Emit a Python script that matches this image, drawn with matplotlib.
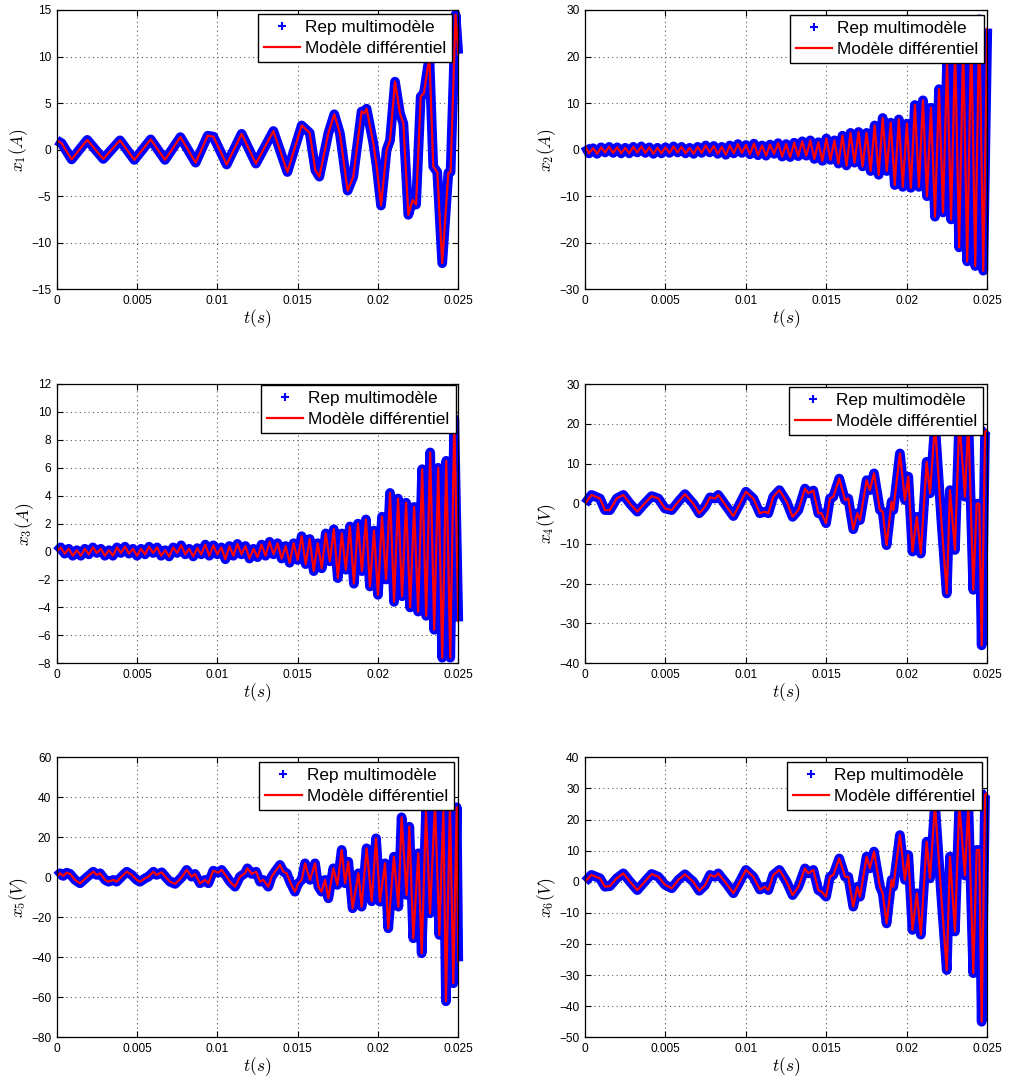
import numpy as np
import matplotlib
matplotlib.use('Agg')
import matplotlib.pyplot as plt
from matplotlib.lines import Line2D

plt.rcParams['font.family'] = ['Liberation Sans', 'DejaVu Sans']
plt.rcParams['mathtext.fontset'] = 'cm'

# ---------------- data (time in ms) ----------------
t1_ms = [0, 0.3, 0.93, 1.9, 2.9, 3.94, 4.83, 5.85, 6.74, 7.7, 8.65, 9.4, 9.75, 10.58, 11.51,
         12.4, 13.49, 14.36, 15.25, 15.75, 16.1, 16.35, 16.91, 17.28, 17.63, 18.11, 18.46,
         18.98, 19.15, 19.29, 19.71, 19.92, 20.19, 20.54, 20.75, 21.06, 21.37, 21.58, 21.89,
         22.16, 22.37, 22.66, 22.86, 23.2, 23.44, 23.69, 24.0, 24.38, 24.52, 24.83, 25.0]
x1 = [1.0, 0.7, -1.05, 1.05, -1.0, 1.0, -1.1, 1.1, -1.1, 1.35, -1.4, 1.5, 1.4, -1.6, 1.7,
      -1.5, 2.0, -2.4, 2.6, 1.8, -2.2, -2.9, 1.75, 3.8, 1.75, -4.4, -2.9,
      4.1, 3.9, 4.4, 0.7, -1.8, -6.0, 0.0, 1.0, 7.3, 3.9, 2.8, -7.0,
      -5.4, -5.9, 5.7, 6.05, 10.0, -1.8, -2.4, -12.2, -2.5, -2.4, 14.5, 10.3]

# x2, x3: successive extrema, uniformly spaced over [0, 25 ms]
x2 = [0.8, -0.8, 0.3, -0.9, 0.5, -0.6, 0.6, -0.7, 0.5, -0.8,
      0.4, -0.8, 0.6, -0.6, 0.7, -0.7, 0.5, -0.9, 0.4, -0.8,
      0.5, -0.7, 0.7, -0.6, 0.6, -0.8, 0.4, -0.9, 0.6, -0.7,
      0.9, -0.6, 0.8, -0.9, 0.6, -1.1, 0.9, -0.8, 1.2, -0.7,
      1.0, -1.0, 1.3, -1.2, 0.9, -1.3, 1.1, -0.9, 1.4, -1.5,
      1.2, -1.6, 1.5, -1.4, 1.8, -1.3, 2.0, -2.0, 1.6, -2.4,
      2.4, -2.2, 2.0, -3.0, 3.0, -3.4, 3.6, -2.8, 3.8, -3.6,
      3.6, -4.6, 5.2, -5.4, 6.8, -4.6, 5.8, -7.6, 6.5, -8.0,
      5.6, -8.2, 9.6, -8.0, 10.6, -10.0, 9.0, -14.4, 13.0, -13.5,
      19.0, -15.0, 22.0, -21.0, 23.0, -24.0, 25.0, -25.0, 28.0, -26.0, 26.0]
x3 = [0.0, 0.3, -0.15, 0.2, -0.3, 0.1, -0.3, 0.2, -0.2, 0.3,
      -0.1, 0.2, -0.3, 0.1, -0.3, 0.3, -0.1, 0.35, -0.15, 0.2,
      -0.3, 0.2, -0.2, 0.35, -0.1, 0.3, -0.3, 0.1, -0.35, 0.3,
      -0.1, 0.45, -0.2, 0.2, -0.35, 0.25, -0.2, 0.5, -0.3, 0.45,
      -0.2, 0.3, -0.55, 0.4, -0.3, 0.55, -0.2, 0.4, -0.5, 0.2,
      -0.4, 0.5, -0.3, 0.7, -0.2, 0.6, -0.5, 0.4, -0.8, 0.6,
      -0.6, 1.1, -0.9, 0.9, -1.4, 0.6, -1.2, 1.3, -0.7, 1.6,
      -1.9, 1.3, -1.3, 1.8, -2.3, 2.0, -1.4, 2.3, -2.5, 1.5,
      -3.1, 2.5, -2.0, 4.2, -3.6, 3.8, -3.2, 3.5, -4.0, 3.2,
      -4.3, 5.9, -4.6, 7.1, -5.6, 6.0, -7.6, 6.5, -7.6, 9.5, -5.0]

t46_ms = [0, 0.4, 0.93, 1.24, 1.55, 1.97, 2.38, 2.8, 3.25, 3.62,
          4.14, 4.56, 4.97, 5.39, 5.8, 6.21, 6.73, 7.1, 7.46, 7.77,
          8.08, 8.28, 8.8, 9.22, 9.53, 10.0, 10.46, 10.87, 11.18, 11.39,
          11.7, 12.08, 12.53, 12.9, 13.26, 13.67, 13.88, 14.19, 14.5, 14.7,
          14.98, 15.22, 15.43, 15.8, 16.16, 16.36, 16.67, 16.92, 17.09, 17.5,
          17.7, 17.96, 18.33, 18.5, 18.74, 19.05, 19.16, 19.57, 19.88, 20.09,
          20.35, 20.62, 20.87, 21.23, 21.44, 21.75, 22.16, 22.48, 22.68, 22.99,
          23.26, 23.61, 23.82, 24.13, 24.34, 24.5, 24.65, 24.86, 25.0]
x4 = [0, 2.2, 1.3, -1.6, -1.6, 1.3, 2.2, 0, -2.0, -0.3,
      1.9, 1.3, -1.2, -1.6, 0.5, 2.4, 0, -2.4, -0.75, 1.6,
      1.3, 2.2, -0.75, -3.1, -0.75, 3.0, 1.3, -2.4, -2.0, -2.4,
      1.75, 3.4, 0.5, -3.3, -1.6, 3.8, 2.6, 3.3, -2.4, -2.4,
      -4.9, 1.3, 1.75, 6.3, 0.9, 1.3, -6.4, -2.4, -4.1, 5.9,
      3.4, 7.6, -1.6, -2.0, -10.4, 0.5, -1.6, 12.6, 0.9, 6.8,
      -12.0, -3.3, -12.5, 10.5, 2.6, 20.0, -5.0, -22.5, 3.4, -11.6,
      21.0, 1.75, 21.0, -21.6, 0.0, 0.0, -35.5, 18.0, 18.5]
x6 = [0, 2.2, 1.1, -1.6, -1.4, 1.1, 2.7, 0, -2.7, -0.5,
      2.5, 1.6, -1.0, -2.1, 0.6, 2.4, 0, -2.9, -1.1, 2.2,
      1.6, 2.7, -0.7, -3.7, -0.8, 3.8, 1.6, -2.5, -1.6, -2.7,
      2.2, 3.8, 0, -4.3, -1.6, 4.3, 2.7, 3.8, -2.7, -3.2,
      -4.8, 1.6, 2.2, 7.5, 1.6, 1.6, -8.0, -1.6, -4.8, 8.1,
      4.3, 9.7, -1.6, -3.7, -13.4, 0.6, -1.6, 15.0, 0.6, 8.6,
      -15.5, -3.7, -17.0, 12.9, 1.1, 25.0, -6.0, -28.4, 8.1, -16.0,
      25.0, 2.0, 25.0, -29.4, 10.2, 10.2, -45.0, 28.0, 28.5]

t5_ms = [0, 0.21, 0.41, 0.62, 0.83, 1.14, 1.45, 1.87, 2.28, 2.49,
         2.70, 3.01, 3.22, 3.53, 3.73, 4.15, 4.36, 4.67, 4.98, 5.19,
         5.50, 5.71, 6.02, 6.22, 6.54, 6.85, 7.05, 7.37, 7.78, 8.09,
         8.40, 8.61, 8.92, 9.23, 9.44, 9.75, 10.06, 10.27, 10.58, 10.79,
         11.10, 11.41, 11.72, 11.87, 12.14, 12.41, 12.66, 12.86, 13.17, 13.38,
         13.59, 13.90, 14.11, 14.32, 14.52, 14.83, 15.04, 15.25, 15.46, 15.77,
         16.08, 16.29, 16.49, 16.70, 16.91, 17.22, 17.47, 17.74, 17.95, 18.15,
         18.42, 18.78, 18.98, 19.29, 19.61, 19.88, 20.12, 20.44, 20.64, 20.99,
         21.27, 21.47, 21.78, 21.95, 22.20, 22.51, 22.72, 22.99, 23.24, 23.55,
         23.82, 24.07, 24.23, 24.48, 24.69, 24.90, 25.0]
x5 = [0.5, 2.0, 0.7, 2.3, 1.7, -1.3, -3.0, 0.0, 2.8, 1.2,
      2.0, -1.3, -2.2, -1.3, -2.2, 1.2, 2.8, 1.2, -1.3, -2.2,
      -0.5, 0.3, 2.8, 1.2, 2.5, -0.5, -2.2, -3.3, 0.0, 3.7,
      0.3, 1.7, -3.0, -1.3, -3.0, 3.3, 2.3, 3.7, 0.3, -2.2,
      -4.7, 0.3, 2.0, 4.5, 1.7, 2.8, -2.2, -1.3, -4.7, 0.3,
      2.8, 6.2, 2.8, 2.0, -2.2, -7.2, -3.0, -1.3, 7.0, -1.3,
      7.0, -4.7, -7.2, -1.3, -10.5, 4.5, -3.8, 13.7, -3.0, 7.8,
      -15.5, 2.0, -14.7, 14.5, -12.0, 19.5, -12.2, 7.0, -25.5, 10.3,
      -14.7, 30.0, -8.8, 25.3, -30.5, 12.0, -38.0, 33.0, -18.0, 37.0,
      -28.8, 35.0, -62.0, 36.0, -53.0, 35.0, -42.0]

ylabels = ['$x_1(A)$', '$x_2(A)$', '$x_3(A)$', '$x_4(V)$', '$x_5(V)$', '$x_6(V)$']
ylims = [(-15, 15), (-30, 30), (-8, 12), (-40, 30), (-80, 60), (-50, 40)]
ysteps = [5, 10, 2, 10, 20, 10]
xticks = [0, 0.005, 0.01, 0.015, 0.02, 0.025]
xticklabels = ['0', '0.005', '0.01', '0.015', '0.02', '0.025']
legend_labels = ['Rep multimodèle', 'Modèle différentiel']

series = [
    (np.array(t1_ms) / 1000, x1),
    (np.linspace(0, 0.025, len(x2)), x2),
    (np.linspace(0, 0.025, len(x3)), x3),
    (np.array(t46_ms) / 1000, x4),
    (np.array(t5_ms) / 1000, x5),
    (np.array(t46_ms) / 1000, x6),
]

# ---------------- layout ----------------
W, H = 1009, 1079
fig = plt.figure(figsize=(W / 100, H / 100), dpi=100)
boxes = [(56.7, 10, 458.3, 289.3), (585, 10, 987.3, 289.3),
         (56.7, 384, 458.3, 663.3), (585, 384, 987.3, 663.3),
         (56.7, 757.3, 458.3, 1037.3), (585, 757.3, 987.3, 1037.3)]
leg_gaps = [(6, 4), (3, 5), (2.6, 1), (4, 2.7), (4.3, 4.4), (5.6, 4.4)]

for i, ((l, t, r, b), (tt, yy)) in enumerate(zip(boxes, series)):
    ax = fig.add_axes([l / W, 1 - b / H, (r - l) / W, (b - t) / H])
    ax.plot(tt, yy, color=(0, 0, 1), lw=7, solid_joinstyle='round',
            solid_capstyle='butt', clip_on=False, zorder=2)
    ax.plot(tt, yy, color=(1, 0, 0), lw=1.6, zorder=3)
    ax.set_xlim(0, 0.025)
    ax.set_ylim(*ylims[i])
    ax.set_xticks(xticks)
    ax.set_xticklabels(xticklabels)
    lo, hi = ylims[i]
    ax.set_yticks(np.arange(lo, hi + ysteps[i] / 2, ysteps[i]))
    ax.tick_params(direction='in', length=4, width=0.8, top=True, right=True,
                   labelsize=8.6, pad=4, colors='k')
    ax.grid(True, linestyle=(0, (1, 3)), color='0.35', linewidth=0.8)
    for s in ax.spines.values():
        s.set_linewidth(0.9)
        s.set_zorder(4)
    ax.set_xlabel('$t(s)$', fontsize=12.5, labelpad=0)
    ax.set_ylabel(ylabels[i], fontsize=12.5, labelpad=1)
    hb = Line2D([], [], color=(0, 0, 1), marker='+', ls='none',
                markersize=6, markeredgewidth=1.5)
    hr = Line2D([], [], color=(1, 0, 0), lw=1.6)
    gr, gt = leg_gaps[i]
    leg = ax.legend([hb, hr], legend_labels, loc='upper right',
                    bbox_to_anchor=(1 - gr / (r - l), 1 - gt / (b - t)),
                    borderaxespad=0, fontsize=12.4, fancybox=False,
                    edgecolor='k', framealpha=1, borderpad=0.35,
                    handlelength=2.1, handletextpad=0.3, labelspacing=0.35)
    leg.get_frame().set_linewidth(1.0)
    leg.set_zorder(10)

fig.savefig('out.png', dpi=100, facecolor='white')
